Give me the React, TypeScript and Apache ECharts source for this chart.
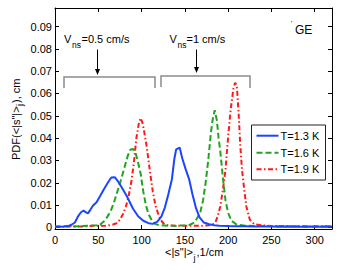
import React, { useEffect, useRef } from "react";
import * as echarts from "echarts";

// ---- data ----
const blueX = [0, 5, 10, 15, 19, 23, 27, 30, 33, 35, 38, 41, 44, 48, 52, 56, 61, 65, 69, 73, 77, 83, 90, 96, 102, 108, 113, 118, 123, 127, 131, 135, 138, 140, 144, 147, 151, 155, 159, 163, 167, 172, 178, 184, 190, 200, 210, 220, 230, 240, 250, 260, 270, 280, 290, 300, 310, 320];
const blueY = [0.0003, 0.0003, 0.0004, 0.0006, 0.0012, 0.0022, 0.0052, 0.0068, 0.0075, 0.007, 0.0063, 0.008, 0.0098, 0.0113, 0.014, 0.0168, 0.02, 0.0224, 0.0225, 0.0205, 0.018, 0.014, 0.0085, 0.005, 0.003, 0.0019, 0.0016, 0.0025, 0.005, 0.009, 0.015, 0.0215, 0.031, 0.035, 0.0358, 0.031, 0.026, 0.0215, 0.0145, 0.0085, 0.0045, 0.0022, 0.0014, 0.001, 0.0008, 0.0006, 0.0005, 0.0005, 0.0004, 0.0004, 0.0004, 0.0003, 0.0003, 0.0003, 0.0003, 0.0003, 0.0003, 0.0003];

const greenX = [0, 10, 20, 30, 40, 48, 52, 56, 60, 64, 68, 72, 76, 80, 84, 87, 90, 93, 96, 99, 102, 105, 108, 112, 116, 120, 130, 140, 150, 156, 160, 164, 168, 171, 174, 177, 180, 182, 184.5, 187, 189, 191, 194, 197, 200, 204, 210, 220, 230, 240, 250, 260, 270, 280, 290, 300, 310, 320];
const greenY = [0.0004, 0.0005, 0.0004, 0.0006, 0.0008, 0.001, 0.0012, 0.0025, 0.0045, 0.007, 0.011, 0.016, 0.021, 0.0265, 0.032, 0.0348, 0.0352, 0.0335, 0.029, 0.024, 0.016, 0.01, 0.006, 0.003, 0.0015, 0.001, 0.0008, 0.0007, 0.001, 0.0012, 0.002, 0.004, 0.007, 0.012, 0.02, 0.03, 0.042, 0.048, 0.0525, 0.048, 0.04, 0.034, 0.022, 0.012, 0.0065, 0.003, 0.0012, 0.0008, 0.0007, 0.0006, 0.0006, 0.0005, 0.0005, 0.0005, 0.0004, 0.0004, 0.0004, 0.0004];

const redX = [0, 10, 20, 30, 40, 50, 57, 63, 67, 71, 75, 79, 82, 85, 88, 91, 94, 97, 99, 101, 103, 106, 110, 113, 116, 119, 122, 125, 130, 140, 150, 160, 170, 178, 182, 185, 188, 191, 194, 197, 200, 203, 206, 208, 210, 212, 214, 216, 218, 221, 225, 230, 240, 250, 260, 270, 280, 290, 300, 310, 320];
const redY = [0.0003, 0.0003, 0.0005, 0.0004, 0.0006, 0.0008, 0.0007, 0.001, 0.0013, 0.0019, 0.0035, 0.0063, 0.0095, 0.014, 0.02, 0.0285, 0.04, 0.047, 0.049, 0.047, 0.043, 0.036, 0.0242, 0.016, 0.01, 0.0063, 0.0035, 0.0019, 0.001, 0.0008, 0.0007, 0.0008, 0.0007, 0.001, 0.0014, 0.002, 0.005, 0.0095, 0.017, 0.026, 0.0406, 0.053, 0.062, 0.0648, 0.0638, 0.052, 0.037, 0.026, 0.019, 0.0095, 0.0035, 0.0015, 0.0009, 0.0007, 0.0006, 0.0006, 0.0005, 0.0005, 0.0005, 0.0005, 0.0005];

const seriesNames = ["T=1.3 K", "T=1.6 K", "T=1.9 K"];
const seriesColors = ["#1d45ff", "#1fa51f", "#ff1a1a"];
const yTicks = [0, 0.01, 0.02, 0.03, 0.04, 0.05, 0.06, 0.07, 0.08, 0.09];

const FONT = "'Liberation Sans', Arial, Helvetica, sans-serif";
const dashes: any[] = ["solid", [6, 3], [5, 2.5, 1.5, 2.5]];

function pairs(xs: number[], ys: number[]) {
  return xs.map((x, i) => [x, ys[i]]);
}

export default function App() {
  const ref = useRef<HTMLDivElement>(null);
  useEffect(() => {
    document.body.style.margin = "0";
    if (!ref.current) return;
    const chart = echarts.init(ref.current, undefined, { renderer: "svg" });
    const X0 = 0, X1 = 320, Y0 = -0.0007, Y1 = 0.0983;
    const frameX = {
      min: X0, max: X1, interval: 50,
      axisLine: { show: true, onZero: false, lineStyle: { color: "#000", width: 1 } },
      axisTick: { show: true, inside: true, length: 4, lineStyle: { color: "#000" } },
      splitLine: { show: false },
    };
    const frameY = {
      min: Y0, max: Y1,
      axisLine: { show: true, onZero: false, lineStyle: { color: "#000", width: 1 } },
      axisTick: { show: true, inside: true, length: 4, customValues: yTicks, lineStyle: { color: "#000" } },
      splitLine: { show: false },
    };
    const lineCommon = { showSymbol: false, symbol: "none", smooth: false };
    const gray = "#8c8c8c";
    const txt = (x: number, y: number, text: string, size = 11, align = "left") => ({
      type: "text", x, y,
      style: { text, font: `${size}px ${FONT}`, fill: "#000", align, verticalAlign: "middle" },
    });
    const legendRows = [135.7, 152.7, 169.3];
    const legendItems: any[] = [
      { type: "rect", shape: { x: 251.5, y: 125, width: 74, height: 55 }, style: { fill: "#fff", stroke: "#222", lineWidth: 1 }, z: 10 },
    ];
    seriesNames.forEach((n, i) => {
      legendItems.push({
        type: "line", z: 11,
        shape: { x1: 256.5, y1: legendRows[i], x2: 278.5, y2: legendRows[i] },
        style: { stroke: seriesColors[i], lineWidth: 2, lineDash: dashes[i] === "solid" ? null : dashes[i] },
      });
      legendItems.push({ ...txt(280.5, legendRows[i], n), z: 11 });
    });
    chart.setOption({
      animation: false,
      backgroundColor: "#fff",
      grid: { left: 55, right: 11, top: 8, bottom: 41, containLabel: false, outerBoundsMode: "none" },
      xAxis: [
        {
          type: "value", position: "bottom", ...frameX,
          axisLabel: { show: true, margin: 5, color: "#000", fontSize: 11, fontFamily: FONT },
        },
        { type: "value", position: "top", ...frameX, axisLabel: { show: false } },
      ],
      yAxis: [
        {
          type: "value", position: "left", ...frameY,
          axisLabel: {
            show: true, margin: 3, color: "#000", fontSize: 11, fontFamily: FONT,
            customValues: yTicks,
            formatter: (v: number) => (Math.abs(v) < 1e-9 ? "0" : v.toFixed(2)),
          },
        },
        { type: "value", position: "right", ...frameY, axisLabel: { show: false } },
      ],
      legend: { show: false },
      series: [
        {
          name: seriesNames[0], type: "line", ...lineCommon,
          data: pairs(blueX, blueY),
          lineStyle: { color: seriesColors[0], width: 2, type: dashes[0] },
          itemStyle: { color: seriesColors[0] },
          z: 3,
        },
        {
          name: seriesNames[1], type: "line", ...lineCommon,
          data: pairs(greenX, greenY),
          lineStyle: { color: seriesColors[1], width: 2, type: dashes[1] },
          itemStyle: { color: seriesColors[1] },
          z: 2,
        },
        {
          name: seriesNames[2], type: "line", ...lineCommon,
          data: pairs(redX, redY),
          lineStyle: { color: seriesColors[2], width: 2, type: dashes[2] },
          itemStyle: { color: seriesColors[2] },
          z: 1,
        },
      ],
      graphic: [
        // brackets
        { type: "polyline", shape: { points: [[64, 88], [64, 77], [155, 77], [155, 88]] }, style: { stroke: gray, lineWidth: 1.5, fill: null } },
        { type: "polyline", shape: { points: [[161, 87], [161, 76], [250, 76], [250, 88]] }, style: { stroke: gray, lineWidth: 1.5, fill: null } },
        // arrows
        { type: "line", shape: { x1: 97.5, y1: 49.5, x2: 97.5, y2: 70 }, style: { stroke: "#000", lineWidth: 1 } },
        { type: "polygon", shape: { points: [[95, 69], [100, 69], [97.5, 75]] }, style: { fill: "#000" } },
        { type: "line", shape: { x1: 196.5, y1: 49.5, x2: 196.5, y2: 68 }, style: { stroke: "#000", lineWidth: 1 } },
        { type: "polygon", shape: { points: [[194, 67], [199, 67], [196.5, 73]] }, style: { fill: "#000" } },
        // V_ns labels
        txt(64, 38.5, "V"),
        txt(72, 45, "ns", 8.5),
        txt(81.5, 38.5, "=0.5 cm/s"),
        txt(169.5, 38.5, "V"),
        txt(177.5, 45, "ns", 8.5),
        txt(186.5, 38.5, "=1 cm/s"),
        // GE
        txt(295, 30, "GE", 12),
        { type: "circle", shape: { cx: 291.7, cy: 21.7, r: 0.6 }, style: { fill: "#666" } },
        // x axis title
        txt(165, 252, "<|s\"|>"),
        txt(193.5, 258, "j", 9),
        txt(196.5, 252, ",1/cm"),
        // y axis title (rotated)
        {
          type: "group", x: 16, y: 120, rotation: Math.PI / 2,
          children: [
            { type: "text", x: -40, y: 0, style: { text: "PDF(<|s\"|>", font: `11px ${FONT}`, fill: "#000", align: "left", verticalAlign: "middle" } },
            { type: "text", x: 14, y: 4, style: { text: "j", font: `9px ${FONT}`, fill: "#000", align: "left", verticalAlign: "middle" } },
            { type: "text", x: 17, y: 0, style: { text: "), cm", font: `11px ${FONT}`, fill: "#000", align: "left", verticalAlign: "middle" } },
          ],
        },
        ...legendItems,
      ],
    });
    return () => chart.dispose();
  }, []);
  return <div ref={ref} style={{ width: 343, height: 270 }} />;
}
